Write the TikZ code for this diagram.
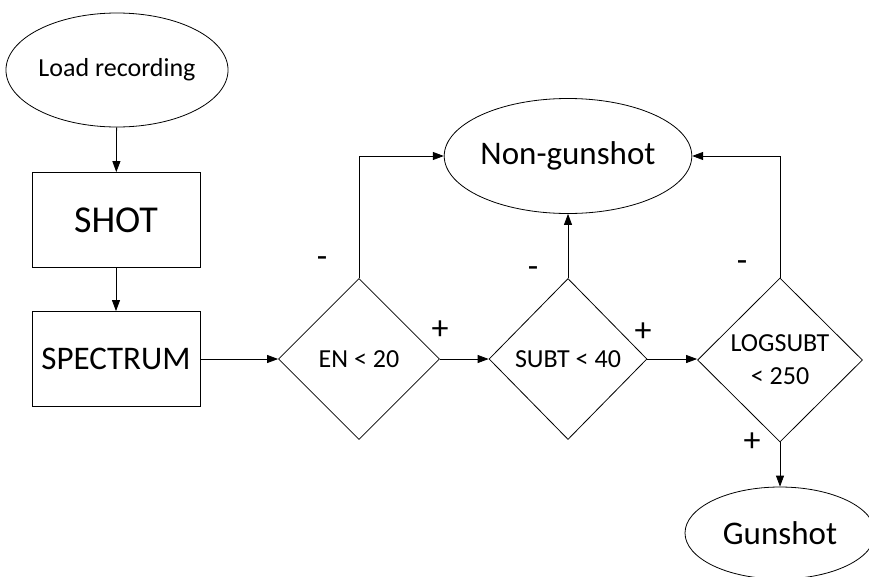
\documentclass[tikz,border=0pt]{standalone}
\usepackage{fontspec}
\setmainfont{Carlito}
\usetikzlibrary{shapes.geometric, arrows.meta, positioning}

\begin{document}
\begin{tikzpicture}[
  x=1pt, y=-1pt, line width=0.8pt,
  term/.style={draw, ellipse, minimum width=210pt, minimum height=114pt, inner sep=0pt, font=\fontsize{33}{33}\selectfont},
  proc/.style={draw, rectangle, minimum width=168pt, minimum height=95pt, inner sep=0pt},
  test/.style={draw, diamond, minimum width=161pt, minimum height=161pt, inner sep=0pt, align=center, font=\fontsize{26}{33}\selectfont},
  sign/.style={inner sep=0pt, font=\fontsize{34}{34}\selectfont},
  flow/.style={-{Triangle[length=11pt, width=8pt]}}
]
  \useasboundingbox (0,0) rectangle (869,576);

  % left column
  \node[term, font=\fontsize{26}{26}\selectfont] (load) at (117,70) {Load recording};
  \node[proc, font=\fontsize{38}{38}\selectfont] (shot) at (116,220) {SHOT};
  \node[proc, font=\fontsize{33}{33}\selectfont] (spec) at (116,359) {SPECTRUM};

  % threshold tests
  \node[test] (en) at (359,359) {EN < 20};
  \node[test, minimum width=158pt] (subt) at (568,359) {SUBT < 40};
  \node[test, minimum width=165pt, minimum height=164pt] (logsubt) at (780,360) {LOGSUBT\\< 250};

  % outcomes
  \node[term, minimum height=115pt] (nongun) at (568,156) {Non-gunshot};
  \node[term, minimum width=190pt, minimum height=92pt] (gun) at (780,533) {Gunshot};

  \draw[flow] (load) -- (shot);
  \draw[flow] (shot) -- (spec);
  \draw[flow] (spec) -- (en);
  \draw[flow] (en.east) -- (subt.west);
  \draw[flow] (subt.east) -- (subt.east -| logsubt.west);
  \draw[flow] (en.north) |- (nongun.west);
  \draw[flow] (subt.north) -- (nongun.south);
  \draw[flow] (logsubt.north) |- (nongun.east);
  \draw[flow] (logsubt.south) -- (gun.north);

  % branch signs
  \node[sign] (en-no) at (322,262) {-};
  \node[sign] (en-yes) at (440,330) {+};
  \node[sign] (subt-no) at (533,272) {-};
  \node[sign] (subt-yes) at (643,332) {+};
  \node[sign] (logsubt-no) at (742,266) {-};
  \node[sign] (logsubt-yes) at (752,442) {+};
\end{tikzpicture}
\end{document}
